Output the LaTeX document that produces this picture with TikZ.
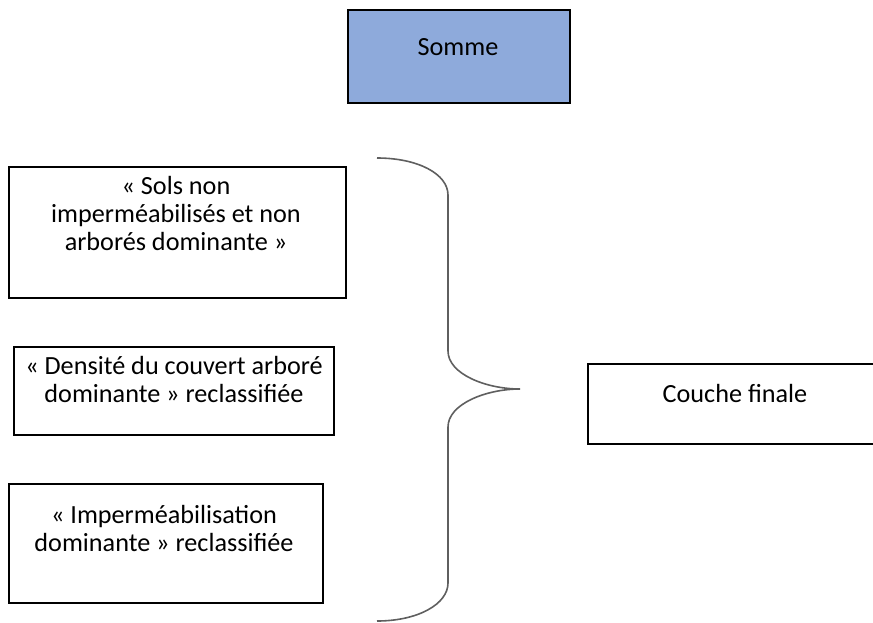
\documentclass[tikz,border=0pt]{standalone}
\usepackage{fontspec}
\setmainfont{Carlito}
\definecolor{sommeblue}{HTML}{8EAADB}
\definecolor{bracegray}{HTML}{5F5F5F}
\begin{document}
\begin{tikzpicture}[x=0.5pt,y=-0.5pt,
  box/.style={draw=black,line width=0.8pt,inner sep=0pt,anchor=north west},
  txt/.style={inner sep=0pt,anchor=north,align=center,font=\fontsize{13.1}{14}\selectfont},
  bracestyle/.style={draw=bracegray,line width=0.8pt}]
\useasboundingbox (0,0) rectangle (873,622);
\clip (0,0) rectangle (873,622);
% boxes
\node[box,fill=sommeblue,minimum width=111pt,minimum height=46.5pt] (somme) at (347,9) {};
\node[box,minimum width=168.5pt,minimum height=65.5pt] (sols) at (8,166) {};
\node[box,minimum width=160pt,minimum height=44pt] (densite) at (13,346) {};
\node[box,minimum width=157pt,minimum height=59.5pt] (imper) at (8,483) {};
\node[box,minimum width=151.5pt,minimum height=40pt] (couche) at (587,363) {};
% texts
\node[txt] (tsomme) at (458,35) {\strut Somme};
\node[txt] (tsols) at (176,174) {\strut « Sols non\\imperméabilisés et non\\arborés dominante »};
\node[txt] (tdens) at (174,354) {\strut « Densité du couvert arboré\\dominante » reclassifiée};
\node[txt] (timper) at (164,503) {\strut « Imperméabilisation\\dominante » reclassifiée};
\node[txt] (tcouche) at (735,382) {\strut Couche finale};
% brace
\coordinate (btop) at (377,158);
\coordinate (btip) at (520,389);
\coordinate (bbot) at (377,621);
\draw[bracestyle] (btop) .. controls (418,158) and (448,174) .. (448,195)
  -- (448,351) .. controls (448,374) and (486,389) .. (btip)
  .. controls (486,389) and (448,404) .. (448,427)
  -- (448,583) .. controls (448,604) and (418,621) .. (bbot);
\end{tikzpicture}
\end{document}
